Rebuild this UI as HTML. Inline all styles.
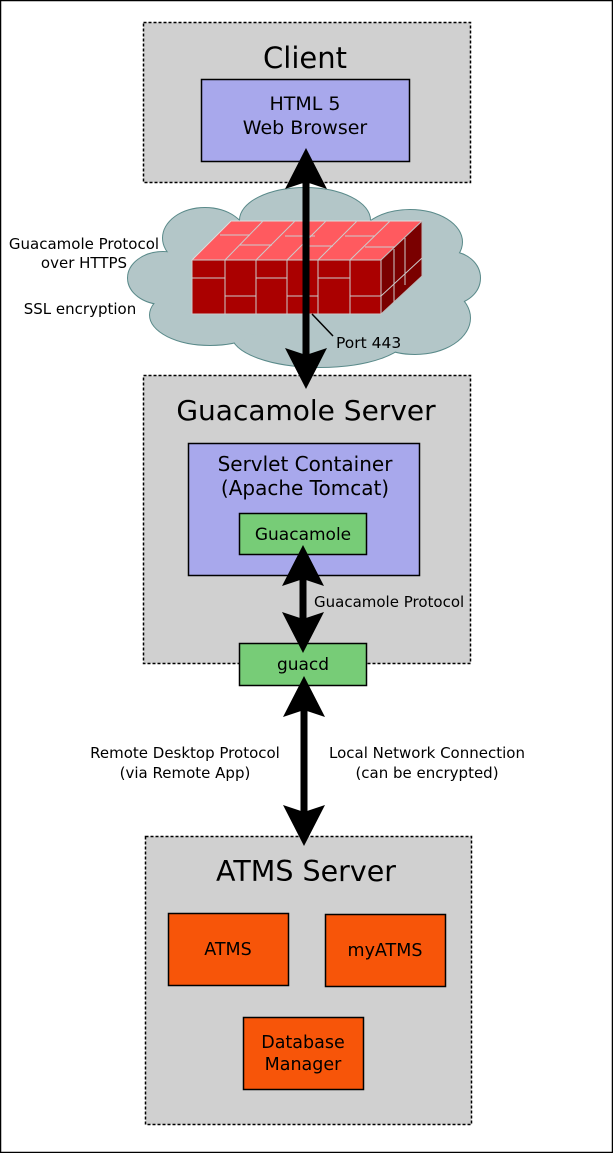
<!DOCTYPE html>
<html><head><meta charset="utf-8"><style>
html,body{margin:0;padding:0;background:#fff}
svg{display:block}
text{font-family:"DejaVu Sans","Liberation Sans",sans-serif;fill:#000}
</style></head><body>
<svg width="613" height="1153" viewBox="0 0 613 1153" xmlns="http://www.w3.org/2000/svg">
<rect x="0.5" y="0.5" width="612" height="1152" fill="#fff" stroke="#000" stroke-width="1.5"/>

<!-- Client -->
<rect x="143.5" y="22.5" width="327" height="160" fill="#d0d0d0" stroke="#000" stroke-width="1.5" stroke-dasharray="3,2"/>
<text x="305" y="68" font-size="29" text-anchor="middle">Client</text>
<rect x="201.5" y="79.5" width="208" height="82" fill="#a8a8ec" stroke="#000" stroke-width="1.5"/>
<text x="305" y="110" font-size="19" text-anchor="middle">HTML 5</text>
<text x="305" y="134" font-size="19" text-anchor="middle">Web Browser</text>

<!-- Cloud -->
<g stroke="#5a8a8a" stroke-width="2" fill="#b3c6c8">
<ellipse cx="205" cy="238" rx="42" ry="30"/>
<ellipse cx="305" cy="220" rx="65" ry="32"/>
<ellipse cx="410" cy="242" rx="52" ry="32"/>
<ellipse cx="450" cy="278" rx="30" ry="26"/>
<ellipse cx="415" cy="318" rx="55" ry="36"/>
<ellipse cx="320" cy="335" rx="88" ry="32"/>
<ellipse cx="210" cy="315" rx="60" ry="30"/>
<ellipse cx="163" cy="278" rx="35" ry="26"/>
</g>
<g fill="#b3c6c8">
<ellipse cx="205" cy="238" rx="42" ry="30"/>
<ellipse cx="305" cy="220" rx="65" ry="32"/>
<ellipse cx="410" cy="242" rx="52" ry="32"/>
<ellipse cx="450" cy="278" rx="30" ry="26"/>
<ellipse cx="415" cy="318" rx="55" ry="36"/>
<ellipse cx="320" cy="335" rx="88" ry="32"/>
<ellipse cx="210" cy="315" rx="60" ry="30"/>
<ellipse cx="163" cy="278" rx="35" ry="26"/>
<ellipse cx="305" cy="278" rx="150" ry="60"/>
</g>

<!-- Firewall -->
<polygon points="192,260 231,221 422,221 381,260" fill="#ff5a5f" stroke="#ddd" stroke-width="1"/>
<polygon points="381,260 422,221 422,276 381,314" fill="#7a0000" stroke="#bbb" stroke-width="1"/>
<rect x="192" y="260" width="189" height="54" fill="#aa0000" stroke="#ccc" stroke-width="1"/>
<g stroke="#ccc" stroke-width="1" fill="none">
<line x1="225" y1="260" x2="225" y2="314"/>
<line x1="256" y1="260" x2="256" y2="314"/>
<line x1="287" y1="260" x2="287" y2="314"/>
<line x1="318" y1="260" x2="318" y2="314"/>
<line x1="350" y1="260" x2="350" y2="314"/>
<line x1="192" y1="278" x2="225" y2="278"/>
<line x1="225" y1="296" x2="256" y2="296"/>
<line x1="256" y1="278" x2="287" y2="278"/>
<line x1="287" y1="296" x2="318" y2="296"/>
<line x1="318" y1="278" x2="350" y2="278"/>
<line x1="350" y1="296" x2="381" y2="296"/>
<line x1="225" y1="260" x2="263" y2="221"/>
<line x1="256" y1="260" x2="295" y2="221"/>
<line x1="287" y1="260" x2="326" y2="221"/>
<line x1="318" y1="260" x2="357" y2="221"/>
<line x1="350" y1="260" x2="390" y2="221"/>
<line x1="220" y1="235" x2="250" y2="235"/>
<line x1="240" y1="245" x2="272" y2="245"/>
<line x1="285" y1="236" x2="315" y2="236"/>
<line x1="305" y1="246" x2="333" y2="246"/>
<line x1="345" y1="236" x2="375" y2="236"/>
<line x1="365" y1="247" x2="395" y2="247"/>
<line x1="381" y1="296" x2="422" y2="258"/>
<line x1="394" y1="249" x2="394" y2="302"/>
<line x1="405" y1="238" x2="405" y2="285"/>
</g>
<line x1="312" y1="314" x2="333" y2="336" stroke="#000" stroke-width="1.5"/>
<text x="336" y="348" font-size="15.5">Port 443</text>

<text x="84" y="249" font-size="15" text-anchor="middle">Guacamole Protocol</text>
<text x="84" y="268" font-size="15" text-anchor="middle">over HTTPS</text>
<text x="80" y="314" font-size="15" text-anchor="middle">SSL encryption</text>

<!-- Guacamole Server -->
<rect x="143.5" y="375.5" width="327" height="288" fill="#d0d0d0" stroke="#000" stroke-width="1.5" stroke-dasharray="3,2"/>
<text x="306" y="420" font-size="28" text-anchor="middle">Guacamole Server</text>
<rect x="188.5" y="443.5" width="231" height="132" fill="#a8a8ec" stroke="#000" stroke-width="1.5"/>
<text x="305" y="471" font-size="20" text-anchor="middle">Servlet Container</text>
<text x="305" y="495" font-size="20" text-anchor="middle">(Apache Tomcat)</text>
<rect x="239.5" y="513.5" width="127" height="41" fill="#77cc77" stroke="#000" stroke-width="1.5"/>
<text x="303" y="540" font-size="17" text-anchor="middle">Guacamole</text>
<text x="314" y="607" font-size="15">Guacamole Protocol</text>

<rect x="239.5" y="643.5" width="127" height="42" fill="#77cc77" stroke="#000" stroke-width="1.5"/>
<text x="303" y="670" font-size="17" text-anchor="middle">guacd</text>

<text x="185" y="758" font-size="15" text-anchor="middle">Remote Desktop Protocol</text>
<text x="185" y="778" font-size="15" text-anchor="middle">(via Remote App)</text>
<text x="427" y="758" font-size="15" text-anchor="middle">Local Network Connection</text>
<text x="427" y="778" font-size="15" text-anchor="middle">(can be encrypted)</text>

<!-- ATMS Server -->
<rect x="145.5" y="836.5" width="326" height="288" fill="#d0d0d0" stroke="#000" stroke-width="1.5" stroke-dasharray="3,2"/>
<text x="306" y="881" font-size="28.5" text-anchor="middle">ATMS Server</text>
<rect x="168.5" y="913.5" width="120" height="72" fill="#f75509" stroke="#000" stroke-width="1.5"/>
<text x="228" y="955" font-size="17.5" text-anchor="middle">ATMS</text>
<rect x="325.5" y="914.5" width="120" height="72" fill="#f75509" stroke="#000" stroke-width="1.5"/>
<text x="385" y="956" font-size="17.5" text-anchor="middle">myATMS</text>
<rect x="243.5" y="1017.5" width="120" height="72" fill="#f75509" stroke="#000" stroke-width="1.5"/>
<text x="303" y="1048" font-size="17.5" text-anchor="middle">Database</text>
<text x="303" y="1070" font-size="17.5" text-anchor="middle">Manager</text>

<!-- Arrows -->
<g fill="#000">
<rect x="302.5" y="180" width="7" height="180"/>
<path d="M306,148 L327,189 L306,182 L285,189 Z"/>
<path d="M306,389 L327,348 L306,355 L285,348 Z"/>

<rect x="299.5" y="575" width="7" height="50"/>
<path d="M303,545 L324,586 L303,579 L282,586 Z"/>
<path d="M303,653 L324,612 L303,619 L282,612 Z"/>

<rect x="300.5" y="705" width="7" height="110"/>
<path d="M304,676 L325,717 L304,710 L283,717 Z"/>
<path d="M304,846 L325,805 L304,812 L283,805 Z"/>
</g>
</svg>
</body></html>
